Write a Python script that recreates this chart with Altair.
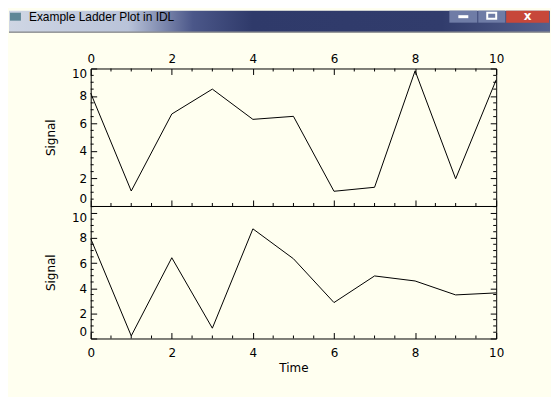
import altair as alt
import pandas as pd

# ---- data ----
time = list(range(11))
signal_top = [8.21, 1.09, 6.69, 8.50, 6.30, 6.52, 1.07, 1.36, 9.83, 1.98, 9.18]
signal_bottom = [7.96, 0.21, 6.43, 0.82, 8.73, 6.35, 2.86, 4.98, 4.58, 3.47, 3.63]
x_major = [0, 2, 4, 6, 8, 10]
y_major = [0, 2, 4, 6, 8, 10]
x_minor = [0.5, 1, 1.5, 2.5, 3, 3.5, 4.5, 5, 5.5, 6.5, 7, 7.5, 8.5, 9, 9.5]
y_minor_top = [0.5, 1, 1.5, 2.5, 3, 3.5, 4.5, 5, 5.5, 6.5, 7, 7.5, 8.5, 9, 9.5]
y_minor_bottom = [0.5, 1, 1.5, 2.5, 3, 3.5, 4.5, 5, 5.5, 6.5, 7, 7.5, 8.5, 9, 9.5, 10.5]
window_title = "Example Ladder Plot in IDL"
x_title = "Time"
y_title = "Signal"

# ---- styling ----
BG = "#FFFFF0"
INK = "black"
FONT = "DejaVu Sans"
FS = 12
W = 407
H_TOP = 138
H_BOT = 133
LEFT = 82          # room left of plot area
BAR_TOP = 58       # room above top plot area (title bar)
MAJ = 6
MIN = 3


def tick_axis(orient, values, labels, title=None, **kw):
    args = dict(orient=orient, values=values, tickSize=MAJ, offset=-MAJ,
                domain=False, grid=False, labels=labels, tickColor=INK,
                tickWidth=1)
    args["title"] = title
    args.update(kw)
    return alt.Axis(**args)


def panel(values, ydom, h, y_minor, top_labels, bottom_labels, top_ticks, yflush):
    df = pd.DataFrame({"Time": time, "Signal": values})
    xs = alt.Scale(domain=[0, 10], nice=False, zero=False)
    ys = alt.Scale(domain=ydom, nice=False, zero=False)

    bottom_kw = dict(labelPadding=9, titlePadding=4, labelFlush=False) if bottom_labels else {}
    main = alt.Chart(df).mark_line(color=INK, strokeWidth=1).encode(
        x=alt.X("Time:Q", scale=xs,
                axis=tick_axis("bottom", x_major, bottom_labels,
                               x_title if bottom_labels else None, **bottom_kw)),
        y=alt.Y("Signal:Q", scale=ys,
                axis=tick_axis("left", y_major, True, y_title,
                               labelPadding=4, titlePadding=14, labelFlush=yflush)),
    )
    layers = [main]

    second_x = (tick_axis("top", x_major, top_labels, None, labelPadding=3.5,
                          labelFlush=False)
                if top_ticks else None)
    second = alt.Chart(df).mark_line(opacity=0).encode(
        x=alt.X("Time:Q", scale=xs, axis=second_x),
        y=alt.Y("Signal:Q", scale=ys,
                axis=tick_axis("right", y_major, False, None)),
    )
    layers.append(second)

    mx = pd.DataFrame({"t": x_minor})
    my = pd.DataFrame({"s": y_minor})
    if top_ticks:
        layers.append(alt.Chart(mx).mark_rule(color=INK, strokeWidth=1).encode(
            x=alt.X("t:Q", scale=xs, axis=None), y=alt.value(0), y2=alt.value(MIN)))
    layers.append(alt.Chart(mx).mark_rule(color=INK, strokeWidth=1).encode(
        x=alt.X("t:Q", scale=xs, axis=None), y=alt.value(h), y2=alt.value(h - MIN)))
    layers.append(alt.Chart(my).mark_rule(color=INK, strokeWidth=1).encode(
        y=alt.Y("s:Q", scale=ys, axis=None), x=alt.value(0), x2=alt.value(MIN)))
    layers.append(alt.Chart(my).mark_rule(color=INK, strokeWidth=1).encode(
        y=alt.Y("s:Q", scale=ys, axis=None), x=alt.value(W), x2=alt.value(W - MIN)))
    return layers


one = alt.Data(values=[{"a": 1}])

# title bar (window chrome look)
bar_grad = alt.Gradient(
    gradient="linear", x1=0, x2=1, y1=0, y2=0,
    stops=[alt.GradientStop(offset=0.0, color="#cfd6e4"),
           alt.GradientStop(offset=0.22, color="#b9c3d9"),
           alt.GradientStop(offset=0.34, color="#4b5789"),
           alt.GradientStop(offset=0.45, color="#2f3a6a"),
           alt.GradientStop(offset=0.80, color="#313c6c"),
           alt.GradientStop(offset=1.0, color="#55618e")])
bar = alt.Chart(one).mark_rect(color=bar_grad).encode(
    x=alt.value(-LEFT), x2=alt.value(461), y=alt.value(-BAR_TOP), y2=alt.value(-BAR_TOP + 21))
icon = alt.Chart(one).mark_rect(color="#5f8796").encode(
    x=alt.value(-LEFT + 1), x2=alt.value(-LEFT + 12), y=alt.value(-BAR_TOP + 2), y2=alt.value(-BAR_TOP + 10))
title_txt = alt.Chart(one).mark_text(align="left", baseline="middle", font="Liberation Sans",
                                     fontSize=12, color="black").encode(
    x=alt.value(-LEFT + 20), y=alt.value(-BAR_TOP + 6.5), text=alt.value(window_title))
btn_min = alt.Chart(one).mark_rect(color="#6f7ca6").encode(
    x=alt.value(360), x2=alt.value(388), y=alt.value(-BAR_TOP), y2=alt.value(-BAR_TOP + 12))
btn_max = alt.Chart(one).mark_rect(color="#6f7ca6").encode(
    x=alt.value(389), x2=alt.value(416), y=alt.value(-BAR_TOP), y2=alt.value(-BAR_TOP + 12))
btn_close = alt.Chart(one).mark_rect(color="#c7473a").encode(
    x=alt.value(417), x2=alt.value(460), y=alt.value(-BAR_TOP), y2=alt.value(-BAR_TOP + 12))
glyph_min = alt.Chart(one).mark_rule(color="white", strokeWidth=3).encode(
    x=alt.value(369), x2=alt.value(379), y=alt.value(-BAR_TOP + 6))
glyph_max = alt.Chart(one).mark_rect(fill="#6f7ca6", stroke="white", strokeWidth=2).encode(
    x=alt.value(398), x2=alt.value(407), y=alt.value(-BAR_TOP + 2), y2=alt.value(-BAR_TOP + 8))
glyph_x = alt.Chart(one).mark_text(font="DejaVu Sans", fontWeight="bold", fontSize=12,
                                   color="white", baseline="middle").encode(
    x=alt.value(438.5), y=alt.value(-BAR_TOP + 5), text=alt.value("x"))
edge = alt.Chart(one).mark_rule(color="#5b5f6a", strokeWidth=1).encode(
    x=alt.value(-LEFT), x2=alt.value(461), y=alt.value(-BAR_TOP + 21.5))

top_layers = panel(signal_top, [0, 10], H_TOP, y_minor_top,
                   top_labels=True, bottom_labels=False, top_ticks=True, yflush=True)
top = alt.layer(bar, icon, title_txt, btn_min, btn_max, btn_close,
                glyph_min, glyph_max, glyph_x, edge, *top_layers).resolve_axis(
    x="independent", y="independent").properties(width=W, height=H_TOP)

bot_layers = panel(signal_bottom, [0, 10.55], H_BOT, y_minor_bottom,
                   top_labels=False, bottom_labels=True, top_ticks=False, yflush=8)
filler = alt.Chart(one).mark_rule(color=BG, strokeWidth=1).encode(
    x=alt.value(-LEFT), x2=alt.value(461), y=alt.value(H_BOT + 56.5))
bottom = alt.layer(*bot_layers, filler).resolve_axis(
    x="independent", y="independent").properties(width=W, height=H_BOT)

chart = alt.vconcat(top, bottom, spacing=0, bounds="flush").properties(
    padding=0, background=BG
).configure_view(stroke=INK, strokeWidth=1).configure_axis(
    labelFont=FONT, labelFontSize=FS, labelColor=INK,
    titleFont=FONT, titleFontSize=FS, titleColor=INK, titleFontWeight="normal",
)

chart.save("out.html", embed_options={"renderer": "svg", "actions": False})
